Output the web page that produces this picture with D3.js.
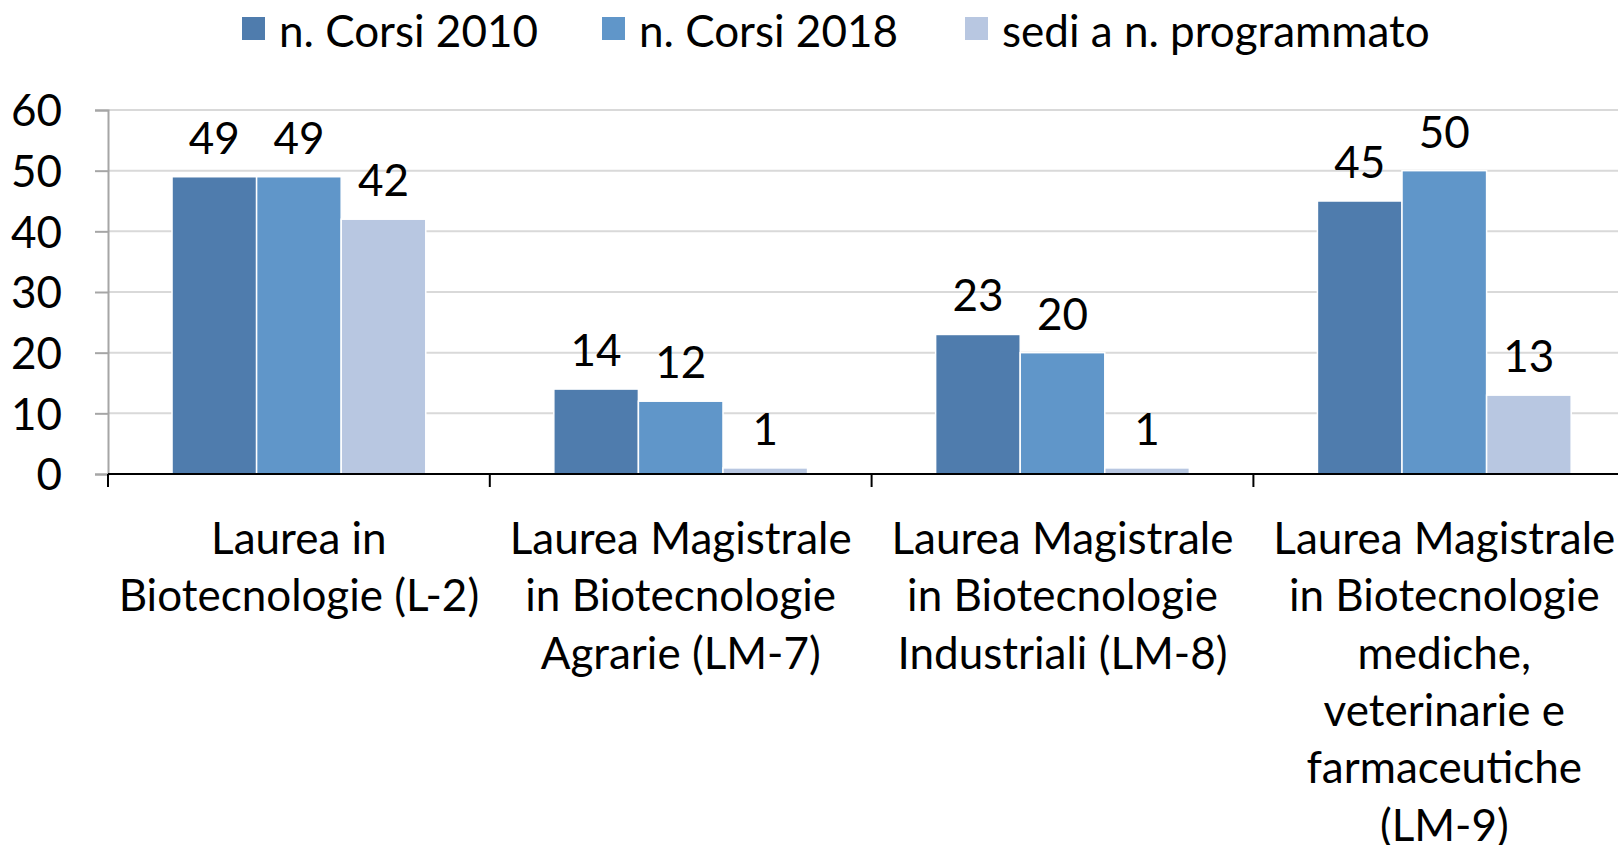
<!DOCTYPE html>
<html>
<head>
<meta charset="utf-8">
<script src="https://cdn.jsdelivr.net/npm/d3@7"></script>
<style>
  body { margin: 0; background: #fff; }
  svg { display: block; font-family: Lato, "Open Sans", sans-serif; }
</style>
</head>
<body>
<svg id="chart" width="1618" height="845"></svg>
<script>
// data
const categories = ["L-2", "LM-7", "LM-8", "LM-9"];
const categoryLines = [
    ["Laurea in", "Biotecnologie (L-2)"],
    ["Laurea Magistrale", "in Biotecnologie", "Agrarie (LM-7)"],
    ["Laurea Magistrale", "in Biotecnologie", "Industriali (LM-8)"],
    ["Laurea Magistrale", "in Biotecnologie", "mediche,", "veterinarie e", "farmaceutiche", "(LM-9)"]
];
const seriesNames = ["n. Corsi 2010", "n. Corsi 2018", "sedi a n. programmato"];
const corsi2010 = [49, 14, 23, 45];
const corsi2018 = [49, 12, 20, 50];
const programmato = [42, 1, 1, 13];
const yTicks = [0, 10, 20, 30, 40, 50, 60];

const seriesValues = [corsi2010, corsi2018, programmato];
const colors = ["#4f7cad", "#6096c9", "#b8c7e1"];

const svg = d3.select("#chart");
const fontSize = 44;

const margin = { left: 108, top: 110, bottom: 474 };
const x0 = d3.scaleBand().domain(categories).range([margin.left, margin.left + 4 * 381.8]);
const x1 = d3.scaleBand().domain(seriesNames).range([0, x0.bandwidth()]).paddingOuter(0.757);
const y = d3.scaleLinear().domain([0, 60]).range([margin.bottom, margin.top]);

// gridlines
svg.append("g")
    .selectAll("line")
    .data(yTicks.slice(1))
    .enter()
    .append("line")
    .attr("x1", margin.left)
    .attr("x2", 1618)
    .attr("y1", d => y(d))
    .attr("y2", d => y(d))
    .attr("stroke", "#d9d9d9")
    .attr("stroke-width", 2);

// y axis
const yAxis = svg.append("g")
    .attr("transform", `translate(${margin.left},0)`)
    .call(d3.axisLeft(y).tickValues(yTicks).tickSize(13).tickPadding(33));
yAxis.select(".domain").attr("stroke", "#a6a6a6").attr("stroke-width", 2);
yAxis.selectAll(".tick line").attr("stroke", "#a6a6a6").attr("stroke-width", 2);
yAxis.selectAll(".tick text")
    .attr("font-size", fontSize)
    .attr("font-family", "Lato, sans-serif")
    .attr("fill", "#000")
    .attr("dy", "0.36em");

// bars
const groups = svg.append("g")
    .selectAll("g")
    .data(categories)
    .enter()
    .append("g")
    .attr("transform", d => `translate(${x0(d)},0)`);

groups.selectAll("rect")
    .data((d, i) => seriesNames.map((s, j) => ({ s: s, j: j, v: seriesValues[j][i] })))
    .enter()
    .append("rect")
    .attr("x", d => x1(d.s))
    .attr("width", x1.bandwidth())
    .attr("y", d => y(d.v))
    .attr("height", d => y(0) - y(d.v))
    .attr("fill", d => colors[d.j])
    .attr("stroke", "#fff")
    .attr("stroke-width", 1.5);

// value labels
groups.selectAll("text")
    .data((d, i) => seriesNames.map((s, j) => ({ s: s, j: j, v: seriesValues[j][i] })))
    .enter()
    .append("text")
    .attr("x", d => x1(d.s) + x1.bandwidth() / 2)
    .attr("y", d => y(d.v) - 23)
    .attr("text-anchor", "middle")
    .attr("font-size", fontSize)
    .attr("fill", "#000")
    .text(d => d.v);

// x axis
svg.append("line")
    .attr("x1", margin.left)
    .attr("x2", 1618)
    .attr("y1", y(0))
    .attr("y2", y(0))
    .attr("stroke", "#000")
    .attr("stroke-width", 2);

svg.append("g")
    .selectAll("line")
    .data(categories)
    .enter()
    .append("line")
    .attr("x1", d => x0(d))
    .attr("x2", d => x0(d))
    .attr("y1", y(0))
    .attr("y2", y(0) + 13)
    .attr("stroke", "#000")
    .attr("stroke-width", 2);

// category labels
const catLabels = svg.append("g")
    .selectAll("text")
    .data(categories)
    .enter()
    .append("text")
    .attr("text-anchor", "middle")
    .attr("font-size", fontSize)
    .attr("fill", "#000");

catLabels.each(function(d, i) {
    const cx = x0(d) + x0.bandwidth() / 2;
    d3.select(this).selectAll("tspan")
        .data(categoryLines[i])
        .enter()
        .append("tspan")
        .attr("x", cx)
        .attr("y", (t, k) => 538 + k * 57.4)
        .attr("dy", "0.36em")
        .text(t => t);
});

// legend
const legendX = [242, 602, 965];
const legend = svg.append("g")
    .selectAll("g")
    .data(seriesNames)
    .enter()
    .append("g")
    .attr("transform", (d, i) => `translate(${legendX[i]},0)`);

legend.append("rect")
    .attr("x", 0)
    .attr("y", 17)
    .attr("width", 23)
    .attr("height", 23)
    .attr("fill", (d, i) => colors[i]);

legend.append("text")
    .attr("x", 37)
    .attr("y", 31)
    .attr("dy", "0.36em")
    .attr("font-size", fontSize)
    .attr("fill", "#000")
    .text(d => d);
</script>
</body>
</html>
